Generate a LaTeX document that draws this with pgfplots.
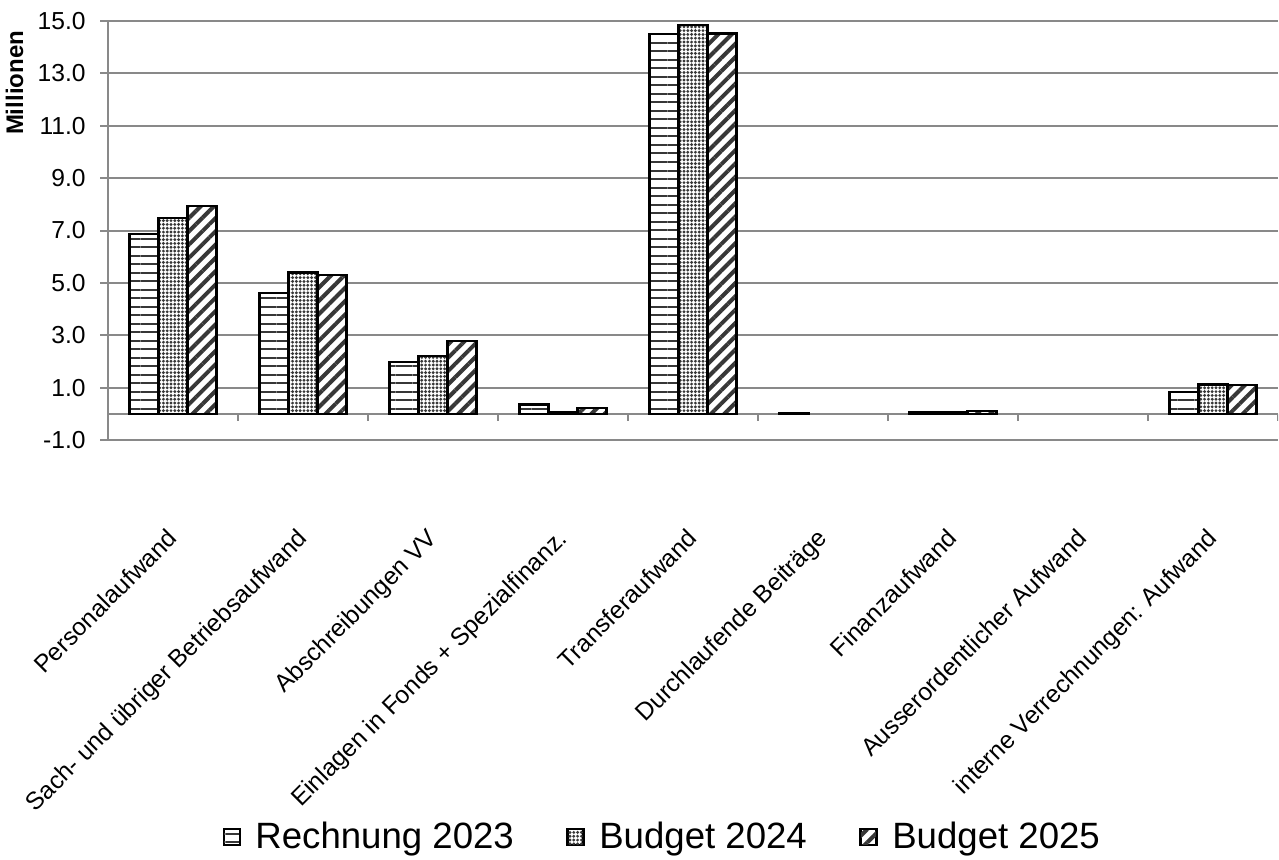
\documentclass[border=0pt]{standalone}
\usepackage{fontspec}
\setmainfont{Liberation Sans}
\usepackage{pgfplots}
\pgfplotsset{compat=1.18}
\usetikzlibrary{patterns.meta}

\definecolor{gridgray}{RGB}{137,137,137}
\definecolor{hatch}{RGB}{55,55,55}

\begin{document}
\begin{tikzpicture}[x=1pt,y=1pt]
\path[use as bounding box] (0,0) rectangle (639.5,429.5);
\begin{axis}[
    at={(54pt,209.5pt)}, anchor=south west,
    scale only axis, width=585pt, height=209.5pt,
    xmin=-0.5, xmax=8.5, ymin=-1, ymax=15,
    ybar=0pt, bar width=14.5pt,
    axis y line*=left, axis x line*=bottom,
    x axis line style={draw=none},
    y axis line style={draw=gridgray, line width=1pt},
    ymajorgrids, grid style={draw=gridgray, line width=1pt},
    ytick={-1,1,...,15},
    yticklabels={-1.0,1.0,3.0,5.0,7.0,9.0,11.0,13.0,15.0},
    ytick style={draw=gridgray, line width=1pt},
    tick align=outside, major tick length=4pt,
    xtick={0,...,8}, xtick style={draw=none},
    xticklabels={Personalaufwand, Sach- und übriger Betriebsaufwand, Abschreibungen VV,
        Einlagen in Fonds + Spezialfinanz., Transferaufwand, Durchlaufende Beiträge,
        Finanzaufwand, Ausserordentlicher Aufwand, interne Verrechnungen: Aufwand},
    tick label style={font=\fontsize{12.3}{14}\selectfont},
    yticklabel style={anchor=east, inner sep=0pt, xshift=-7pt},
    xticklabel style={inner sep=0pt, xshift=-3.5pt, yshift=-39.5pt, rotate=45, anchor=north east},
    legend style={at={(0.4735,-0.948)}, anchor=center, draw=none, fill=none,
        legend columns=3, font=\fontsize{18.3}{21}\selectfont,
        nodes={inner sep=0.5pt},
        /tikz/every odd column/.append style={column sep=7pt},
        /tikz/every even column/.append style={column sep=26pt}},
    legend image code/.code={\draw[#1, line width=0.7pt] (0pt,-4pt) rectangle (8pt,4pt);},
]
\draw[gridgray, line width=1pt] (axis cs:-0.5,0) -- (axis cs:8.5,0);
\pgfplotsinvokeforeach{0.5,1.5,2.5,3.5,4.5,5.5,6.5,7.5,8.5}{
    \draw[gridgray, line width=1pt] (axis cs:#1,0) -- ([yshift=-3.5pt]axis cs:#1,0);
}
\addplot[draw=black, line width=1.2pt, preaction={fill=white},
    pattern={Lines[angle=0, distance=4.25pt, line width=1pt]}, pattern color=hatch]
    coordinates {(0,6.86) (1,4.62) (2,1.98) (3,0.35) (4,14.50) (5,0.01) (6,0.05) (8,0.84)};
\addplot[draw=black, line width=1.2pt, preaction={fill=white},
    pattern={Dots[distance=1.9pt, radius=0.8pt]}, pattern color=hatch]
    coordinates {(0,7.48) (1,5.39) (2,2.20) (3,0.06) (4,14.85) (6,0.05) (8,1.12)};
\addplot[draw=black, line width=1.2pt, preaction={fill=white},
    pattern={Lines[angle=45, distance=4.7pt, line width=2pt]}, pattern color=hatch]
    coordinates {(0,7.93) (1,5.29) (2,2.78) (3,0.23) (4,14.52) (6,0.10) (8,1.09)};
\legend{Rechnung 2023, Budget 2024, Budget 2025}
\end{axis}
\node[rotate=90, inner sep=0pt, font=\bfseries\fontsize{12}{14}\selectfont] at (7.25,388) {Millionen};
\end{tikzpicture}
\end{document}
